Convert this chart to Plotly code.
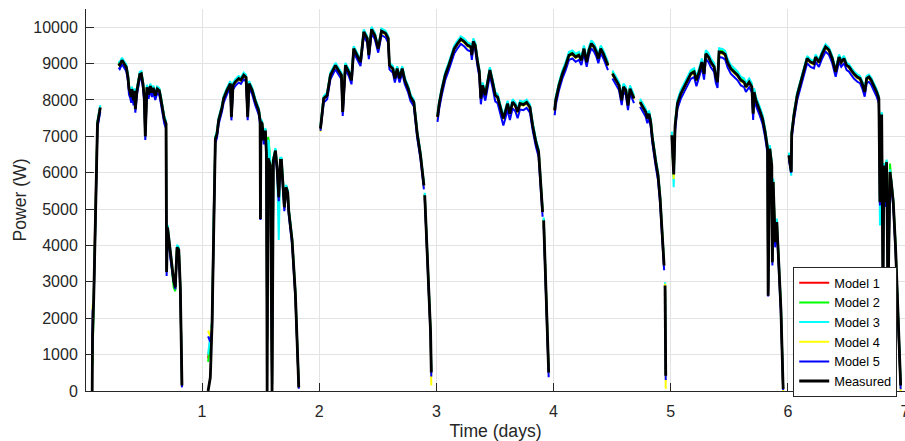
import plotly.graph_objects as go

# ---------------- data ----------------
# time axis in days; None entries mark night gaps
time_days = [
    0.063, 0.066, 0.076, 0.089, 0.108, 0.119, 0.132, 0.200, 0.288, 0.298, 0.317, 0.331, 0.354, 0.368, 0.377, 0.388, 0.396, 0.402, 0.416, 0.426, 0.431, 0.445, 0.459, 0.469, 0.482, 0.496, 0.507, 0.516, 0.530, 0.544, 0.559, 0.573, 0.584, 0.601, 0.618, 0.636, 0.648, 0.661, 0.678, 0.693, 0.698, 0.706, 0.730, 0.758, 0.772, 0.787, 0.802, 0.815, 0.829, 0.950,
    1.052, 1.071, 1.086, 1.099, 1.114, 1.128, 1.142, 1.171, 1.185, 1.214, 1.242, 1.251, 1.265, 1.285, 1.313, 1.332, 1.356, 1.376, 1.390, 1.402, 1.428, 1.456, 1.484, 1.496, 1.499, 1.503, 1.513, 1.527, 1.541, 1.550, 1.556, 1.564, 1.569, 1.584, 1.598, 1.609, 1.627, 1.641, 1.655, 1.669, 1.678, 1.692, 1.703, 1.718, 1.732, 1.740, 1.769, 1.797, 1.826, 1.950,
    2.011, 2.039, 2.068, 2.096, 2.139, 2.167, 2.190, 2.201, 2.224, 2.253, 2.276, 2.295, 2.324, 2.353, 2.381, 2.410, 2.424, 2.447, 2.475, 2.504, 2.532, 2.566, 2.589, 2.600, 2.629, 2.646, 2.666, 2.686, 2.709, 2.731, 2.760, 2.780, 2.808, 2.837, 2.865, 2.894, 2.897, 2.901, 2.916, 2.936, 2.951, 2.957, 2.990,
    3.010, 3.025, 3.047, 3.076, 3.102, 3.124, 3.153, 3.181, 3.209, 3.239, 3.267, 3.295, 3.303, 3.315, 3.332, 3.352, 3.367, 3.380, 3.395, 3.418, 3.437, 3.457, 3.480, 3.503, 3.523, 3.551, 3.572, 3.589, 3.608, 3.628, 3.651, 3.674, 3.694, 3.714, 3.743, 3.771, 3.799, 3.822, 3.850, 3.873, 3.893, 3.907, 3.912, 3.916, 3.930, 3.944, 3.959, 3.990,
    4.010, 4.019, 4.047, 4.076, 4.104, 4.132, 4.161, 4.189, 4.217, 4.238, 4.260, 4.283, 4.303, 4.323, 4.346, 4.366, 4.383, 4.403, 4.426, 4.446, 4.465, 4.485, 4.503, 4.531, 4.559, 4.582, 4.597, 4.617, 4.636, 4.653, 4.674, 4.687, 4.715, 4.739, 4.759, 4.787, 4.801, 4.815, 4.830, 4.844, 4.873, 4.892, 4.910, 4.924, 4.944, 4.948, 4.952, 4.958, 4.990,
    5.010, 5.026, 5.038, 5.058, 5.086, 5.114, 5.143, 5.172, 5.200, 5.220, 5.243, 5.266, 5.285, 5.300, 5.323, 5.343, 5.371, 5.385, 5.400, 5.413, 5.442, 5.465, 5.485, 5.513, 5.542, 5.571, 5.599, 5.627, 5.642, 5.670, 5.693, 5.704, 5.712, 5.727, 5.755, 5.784, 5.806, 5.827, 5.832, 5.846, 5.863, 5.868, 5.875, 5.892, 5.906, 5.926, 5.941, 5.960, 5.990,
    6.009, 6.029, 6.033, 6.052, 6.080, 6.109, 6.137, 6.165, 6.194, 6.223, 6.237, 6.265, 6.293, 6.322, 6.351, 6.379, 6.408, 6.437, 6.456, 6.479, 6.502, 6.522, 6.541, 6.564, 6.593, 6.616, 6.635, 6.656, 6.673, 6.692, 6.712, 6.735, 6.758, 6.777, 6.786, 6.792, 6.801, 6.812, 6.820, 6.829, 6.843, 6.855, 6.872, 6.883, 6.900, 6.920, 6.934, 6.949, 6.963,
]

measured = [
    0, 1500, 2550, 4780, 7350, 7550, 7790, None, 9000, 8960, 9090, 9010, 8900, 8630, 8310, 8200, 8080, 8300, 7990, 8250, 7750, 8260, 8540, 8700, 8720, 8450, 8080, 7000, 8350, 8150, 8380, 8200, 8330, 8120, 8300, 8250, 8050, 7750, 7480, 7350, 3270, 4500, 3780, 3040, 2850, 3950, 3880, 2850, 150, None,
    0, 370, 1850, 4700, 6930, 7070, 7440, 7800, 8040, 8270, 8450, 7530, 8400, 8500, 8590, 8550, 8680, 8620, 7530, 8450, 8270, 7950, 7710, 7440, 4730, 7400, 7350, 6890, 7160, 6520, 0, 6400, 6340, 6200, 0, 6340, 6610, 6130, 5330, 6340, 6340, 5700, 5050, 5600, 5450, 4960, 4140, 2670, 100, None,
    7210, 8040, 8130, 8680, 8950, 8820, 8680, 7670, 8950, 8770, 8540, 9410, 9230, 9040, 9870, 9690, 9230, 9940, 9780, 9410, 9890, 9830, 9690, 8950, 8860, 8590, 8860, 8590, 8860, 8540, 8310, 8080, 7940, 7070, 6480, 5650, None, 5380, 4370, 2990, 1610, 510, None,
    7530, 7900, 8270, 8680, 8910, 9140, 9410, 9550, 9670, 9600, 9500, 9460, 9230, 9610, 9500, 9040, 8770, 8040, 8400, 8130, 8490, 8820, 8490, 8130, 8080, 7760, 7490, 7670, 7900, 7620, 7940, 7850, 7670, 7900, 7870, 7930, 7800, 7300, 6840, 6570, 5740, 4920, None, 4690, 3450, 2070, 510, None,
    7710, 7990, 8400, 8720, 8950, 9230, 9270, 9180, 9230, 9090, 9410, 9040, 9370, 9550, 9460, 9320, 9140, 9410, 9270, 9090, 8950, None, 8720, 8540, 8400, 7990, 8360, 8270, 7850, 8310, 8170, 8040, None, 7940, 7810, 7670, 7490, 7620, 7390, 6940, 6290, 5930, 5280, 4370, 3450, None, 2900, 420, None,
    7030, 5950, 7300, 7900, 8170, 8360, 8540, 8720, 8770, 8540, 8770, 9040, 8720, 9270, 9180, 9040, 8910, 8630, 8490, 9320, 9300, 9250, 9040, 8860, 8770, 8680, 8540, 8490, 8360, 8490, 8360, 7620, 8220, 7990, 7760, 7490, 7120, 6660, 2620, 6660, 6200, 3540, 5740, 4090, 4640, 3450, 2260, 55, None,
    6480, 6020, 7070, 7580, 8130, 8490, 8770, 9140, 9040, 9000, 9180, 9040, 9270, 9460, 9370, 9140, 8770, 9180, 9040, 9140, 8950, 8910, 8820, 8720, 8630, 8590, 8450, 8220, 8590, 8630, 8540, 8400, 8220, 8040, 5190, 7390, 7600, 2800, 6200, 5190, 6290, 2500, 6020, 5740, 5190, 3910, 2530, 1160, 150,
]

model1 = [
    1000, 1600, 2570, 4800, 7370, 7570, 7810, None, 9020, 8980, 9110, 9030, 8920, 8650, 8330, 8220, 8100, 8320, 8010, 8270, 7770, 8280, 8560, 8720, 8740, 8470, 8100, 7020, 8370, 8170, 8400, 8220, 8350, 8140, 8320, 8270, 8070, 7770, 7500, 7370, 3290, 4520, 3800, 3000, 2800, 3970, 3900, 2870, 170, None,
    900, 1400, 1870, 4720, 6950, 7090, 7460, 7820, 8060, 8290, 8470, 7550, 8420, 8520, 8610, 8570, 8700, 8640, 7550, 8470, 8290, 7970, 7730, 7460, 4900, 7420, 7370, 6910, 7180, 6540, 1500, 6600, 6500, 6220, 200, 6360, 6630, 6150, 5350, 6360, 6360, 5720, 5070, 5620, 5470, 4980, 4160, 2690, 120, None,
    7230, 8060, 8150, 8700, 8970, 8840, 8700, 7690, 8970, 8790, 8560, 9430, 9250, 9060, 9890, 9710, 9250, 9960, 9800, 9430, 9910, 9850, 9710, 8970, 8880, 8610, 8880, 8610, 8880, 8560, 8330, 8100, 7960, 7090, 6500, 5670, None, 5400, 4390, 3010, 1630, 530, None,
    7550, 7920, 8290, 8700, 8930, 9160, 9430, 9570, 9690, 9620, 9520, 9480, 9250, 9630, 9520, 9060, 8790, 8060, 8420, 8150, 8510, 8840, 8510, 8150, 8100, 7780, 7510, 7690, 7920, 7640, 7960, 7870, 7690, 7920, 7890, 7950, 7820, 7320, 6860, 6590, 5760, 4940, None, 4710, 3470, 2090, 530, None,
    7730, 8010, 8420, 8740, 8970, 9250, 9290, 9200, 9250, 9110, 9430, 9060, 9390, 9570, 9480, 9340, 9160, 9430, 9290, 9110, 8970, None, 8740, 8560, 8420, 8010, 8380, 8290, 7870, 8330, 8190, 8060, None, 7960, 7830, 7690, 7510, 7640, 7410, 6960, 6310, 5950, 5300, 4390, 3470, None, 2920, 440, None,
    7050, 5900, 7320, 7920, 8190, 8380, 8560, 8740, 8790, 8560, 8790, 9060, 8740, 9290, 9200, 9060, 8930, 8650, 8510, 9340, 9320, 9270, 9060, 8880, 8790, 8700, 8560, 8510, 8380, 8510, 8380, 7640, 8240, 8010, 7780, 7510, 7140, 6680, 2800, 6680, 6220, 3600, 5760, 4110, 4660, 3470, 2280, 75, None,
    6500, 6040, 7090, 7600, 8150, 8510, 8790, 9160, 9060, 9020, 9200, 9060, 9290, 9480, 9390, 9160, 8790, 9200, 9060, 9160, 8970, 8930, 8840, 8740, 8650, 8610, 8470, 8240, 8610, 8650, 8560, 8420, 8240, 8060, 5300, 7410, 7620, 3000, 6220, 5210, 6310, 2600, 6040, 5760, 5210, 3930, 2550, 1180, 170,
]

model2 = [
    700, 750, 2590, 4820, 7390, 7590, 7830, None, 9040, 9000, 9130, 9050, 8940, 8670, 8350, 8240, 8120, 8340, 8030, 8290, 7790, 8300, 8580, 8740, 8760, 8490, 8120, 7040, 8390, 8190, 8420, 8240, 8370, 8160, 8340, 8290, 8090, 7790, 7520, 7390, 3310, 4540, 3760, 2850, 2740, 3990, 3920, 2890, 120, None,
    800, 1300, 1890, 4740, 6970, 7110, 7480, 7840, 8080, 8310, 8490, 7570, 8440, 8540, 8630, 8590, 8720, 8660, 7570, 8490, 8310, 7990, 7750, 7480, 5000, 7440, 7390, 6930, 7200, 6560, 1450, 6980, 6900, 6240, 200, 6380, 6650, 6170, 5370, 6380, 6380, 5740, 5090, 5640, 5490, 5000, 4180, 2710, 140, None,
    7250, 8080, 8170, 8720, 8990, 8860, 8720, 7710, 8990, 8810, 8580, 9450, 9270, 8990, 9910, 9730, 9270, 9980, 9820, 9360, 9930, 9870, 9730, 8990, 8900, 8630, 8900, 8630, 8900, 8580, 8350, 8120, 7980, 7110, 6520, 5690, None, 5420, 4410, 3030, 1650, 550, None,
    7570, 7940, 8310, 8720, 8950, 9180, 9450, 9590, 9710, 9640, 9540, 9500, 9270, 9650, 9540, 9080, 8810, 8080, 8440, 8170, 8530, 8860, 8530, 8170, 8120, 7800, 7530, 7710, 7940, 7660, 7980, 7890, 7710, 7940, 7910, 7970, 7840, 7340, 6880, 6610, 5780, 4960, None, 4730, 3490, 2110, 550, None,
    7760, 8040, 8450, 8770, 9000, 9280, 9320, 9230, 9280, 9140, 9460, 9090, 9420, 9600, 9510, 9370, 9190, 9460, 9320, 9140, 9000, None, 8770, 8590, 8450, 8040, 8410, 8320, 7900, 8360, 8220, 8090, None, 7990, 7860, 7720, 7540, 7670, 7440, 6990, 6340, 5980, 5330, 4420, 3500, None, 2950, 470, None,
    7080, 5900, 7350, 7950, 8220, 8410, 8590, 8770, 8820, 8590, 8820, 9090, 8770, 9320, 9230, 9090, 8960, 8680, 8540, 9370, 9350, 9300, 9090, 8910, 8820, 8730, 8590, 8540, 8410, 8540, 8410, 7670, 8270, 8040, 7810, 7540, 7170, 6710, 2900, 6710, 6250, 3650, 5790, 4140, 4690, 3500, 2310, 100, None,
    6520, 6060, 7110, 7620, 8170, 8530, 8810, 9180, 9080, 9040, 9220, 9080, 9310, 9500, 9410, 9180, 8810, 9220, 9080, 9180, 8990, 8950, 8860, 8760, 8670, 8630, 8490, 8260, 8630, 8670, 8580, 8440, 8260, 8080, 5400, 7430, 7640, 3100, 6240, 5230, 6330, 2700, 6250, 5780, 5230, 3950, 2570, 1200, 190,
]

model3 = [
    1000, 1100, 2620, 4850, 7420, 7620, 7860, None, 9070, 9030, 9160, 9080, 8970, 8700, 8380, 8270, 8150, 8370, 8060, 8320, 7820, 8330, 8610, 8770, 8790, 8520, 8150, 7070, 8420, 8220, 8450, 8270, 8400, 8190, 8370, 8320, 8120, 7820, 7550, 7420, 3340, 4570, 3850, 3100, 2900, 4020, 3950, 2920, 200, None,
    1000, 1450, 1920, 4770, 7000, 7140, 7510, 7870, 8110, 8340, 8520, 7600, 8470, 8570, 8660, 8620, 8750, 8690, 7600, 8520, 8340, 8020, 7780, 7510, 4900, 7470, 7420, 6960, 7230, 6590, 1400, 6900, 6850, 6270, 200, 6410, 6680, 6200, 4150, 6410, 6410, 5770, 5120, 5670, 5520, 5030, 4210, 2740, 170, None,
    7280, 8110, 8200, 8750, 9020, 8890, 8750, 7740, 9020, 8840, 8610, 9480, 9300, 9110, 9940, 9760, 9300, 10010, 9850, 9480, 9960, 9900, 9760, 9020, 8930, 8660, 8930, 8660, 8930, 8610, 8380, 8150, 8010, 7140, 6550, 5720, None, 5450, 4440, 3060, 1680, 580, None,
    7610, 7980, 8350, 8760, 8990, 9220, 9490, 9630, 9750, 9680, 9580, 9540, 9310, 9690, 9580, 9120, 8850, 8120, 8480, 8210, 8570, 8900, 8570, 8210, 8160, 7840, 7570, 7750, 7980, 7700, 8020, 7930, 7750, 7980, 7950, 8010, 7880, 7380, 6920, 6650, 5820, 5000, None, 4770, 3530, 2150, 590, None,
    7800, 8080, 8490, 8810, 9040, 9320, 9360, 9270, 9320, 9180, 9500, 9130, 9460, 9640, 9550, 9410, 9230, 9500, 9360, 9180, 9040, None, 8810, 8630, 8490, 8080, 8450, 8360, 7940, 8400, 8260, 8130, None, 8030, 7900, 7760, 7580, 7710, 7480, 7030, 6380, 6020, 5370, 4460, 3540, None, 2990, 510, None,
    7130, 5600, 7400, 8000, 8270, 8460, 8640, 8820, 8870, 8640, 8870, 9140, 8820, 9370, 9280, 9140, 9010, 8730, 8590, 9420, 9400, 9350, 9140, 8960, 8870, 8780, 8640, 8590, 8460, 8590, 8460, 7720, 8320, 8090, 7860, 7590, 7220, 6760, 2900, 6760, 6300, 3700, 5840, 4190, 4740, 3550, 2360, 150, None,
    6550, 5920, 7140, 7650, 8200, 8560, 8840, 9210, 9110, 9070, 9250, 9110, 9340, 9530, 9440, 9210, 8840, 9250, 9110, 9210, 9020, 8980, 8890, 8790, 8700, 8660, 8520, 8290, 8660, 8700, 8610, 8470, 8290, 8110, 4550, 7460, 7670, 3000, 6270, 5260, 6360, 2800, 6090, 5810, 5260, 3980, 2600, 1230, 220,
]

model4 = [
    1100, 2330, 2520, 4750, 7320, 7520, 7760, None, 8970, 8930, 9060, 8980, 8870, 8600, 8280, 8170, 8050, 8270, 7960, 8220, 7720, 8230, 8510, 8670, 8690, 8420, 8050, 6970, 8320, 8120, 8350, 8170, 8300, 8090, 8270, 8220, 8020, 7720, 7450, 7320, 3240, 4470, 3750, 3050, 2950, 3920, 3850, 2820, 120, None,
    1660, 1500, 1820, 4670, 6900, 7040, 7410, 7770, 8010, 8240, 8420, 7500, 8370, 8470, 8560, 8520, 8650, 8590, 7500, 8420, 8240, 7920, 7680, 7410, 4800, 7370, 7320, 6860, 7130, 6490, 1300, 6370, 6310, 6170, 150, 6310, 6580, 6100, 5250, 6310, 6310, 5670, 4980, 5570, 5420, 4930, 4110, 2640, 80, None,
    7120, 8010, 8100, 8650, 8920, 8790, 8650, 7640, 8920, 8740, 8510, 9380, 9200, 9010, 9840, 9660, 9200, 9910, 9750, 9380, 9860, 9800, 9660, 8920, 8830, 8560, 8830, 8560, 8830, 8510, 8280, 8050, 7910, 7040, 6450, 5600, None, 5350, 4340, 2960, 1580, 150, None,
    7450, 7870, 8240, 8650, 8880, 9110, 9380, 9520, 9640, 9570, 9470, 9430, 9200, 9580, 9470, 9010, 8740, 8010, 8370, 8100, 8460, 8790, 8460, 8100, 8050, 7730, 7460, 7640, 7870, 7590, 7910, 7820, 7640, 7870, 7840, 7900, 7770, 7270, 6810, 6540, 5710, 4890, None, 4660, 3420, 2040, 480, None,
    7630, 7960, 8370, 8690, 8920, 9200, 9240, 9150, 9200, 9060, 9380, 9010, 9340, 9520, 9430, 9290, 9110, 9380, 9240, 9060, 8920, None, 8690, 8510, 8370, 7960, 8330, 8240, 7820, 8280, 8140, 8010, None, 7910, 7780, 7640, 7460, 7590, 7360, 6910, 6260, 5900, 5250, 4340, 3420, None, 2950, 60, None,
    6900, 5830, 7270, 7870, 8140, 8330, 8510, 8690, 8740, 8510, 8740, 9010, 8690, 9240, 9150, 9010, 8880, 8600, 8460, 9290, 9270, 9220, 9010, 8830, 8740, 8650, 8510, 8460, 8330, 8460, 8330, 7590, 8190, 7960, 7730, 7460, 7090, 6630, 2700, 6630, 6170, 3500, 5710, 4060, 4610, 3420, 2230, 0, None,
    6450, 6100, 7040, 7550, 8100, 8460, 8740, 9110, 9010, 8970, 9150, 9010, 9240, 9430, 9340, 9110, 8740, 9150, 9010, 9110, 8920, 8880, 8790, 8690, 8600, 8560, 8420, 8190, 8560, 8600, 8510, 8370, 8190, 8010, 5200, 7360, 7570, 2900, 6170, 5160, 6260, 2400, 5990, 5710, 5160, 3880, 2500, 1130, 0,
]

model5 = [
    1000, 2200, 2440, 4670, 7240, 7440, 7680, None, 8890, 8850, 8980, 8900, 8790, 8520, 8150, 8050, 7920, 8190, 7850, 8120, 7650, 8150, 8430, 8590, 8610, 8340, 7950, 6900, 8240, 8030, 8270, 8080, 8210, 8000, 8190, 8130, 7920, 7620, 7350, 7220, 3160, 4390, 3650, 3000, 2800, 3840, 3770, 2740, 100, None,
    1500, 1350, 1740, 4590, 6820, 6960, 7330, 7690, 7930, 8160, 8340, 7440, 8290, 8390, 8480, 8440, 8570, 8510, 7440, 8340, 8160, 7840, 7600, 7330, 4700, 7290, 7240, 6780, 7050, 6410, 1400, 6290, 6230, 6090, 150, 6230, 6500, 6020, 5220, 6230, 6230, 5590, 4940, 5490, 5340, 4850, 4030, 2560, 60, None,
    7150, 7930, 8020, 8570, 8840, 8710, 8570, 7560, 8840, 8660, 8430, 9300, 9120, 8930, 9760, 9580, 9120, 9830, 9670, 9300, 9780, 9720, 9580, 8840, 8750, 8480, 8750, 8480, 8750, 8430, 8200, 7970, 7830, 6960, 6370, 5540, None, 5300, 4260, 2880, 1500, 400, None,
    7400, 7770, 8140, 8550, 8780, 9010, 9280, 9420, 9540, 9470, 9370, 9330, 9100, 9480, 9370, 8910, 8640, 7880, 8250, 7980, 8340, 8670, 8340, 7960, 7910, 7590, 7300, 7490, 7730, 7450, 7770, 7690, 7500, 7740, 7720, 7780, 7650, 7170, 6710, 6440, 5610, 4790, None, 4560, 3320, 1940, 380, None,
    7580, 7860, 8270, 8590, 8820, 9100, 9140, 9050, 9100, 8960, 9280, 8910, 9240, 9420, 9330, 9190, 9010, 9280, 9140, 8960, 8820, None, 8590, 8410, 8270, 7860, 8230, 8140, 7720, 8180, 8040, 7910, None, 7810, 7680, 7540, 7360, 7490, 7260, 6810, 6160, 5800, 5150, 4240, 3320, None, 2800, 300, None,
    6950, 6000, 7160, 7760, 8030, 8220, 8400, 8580, 8630, 8380, 8630, 8900, 8560, 9130, 9040, 8900, 8770, 8470, 8330, 9180, 9160, 9110, 8900, 8720, 8630, 8540, 8400, 8350, 8220, 8350, 8220, 7450, 8080, 7850, 7620, 7350, 6980, 6520, 2600, 6520, 6060, 3450, 5600, 3950, 4500, 3310, 2120, 30, None,
    6350, 6000, 6940, 7450, 8000, 8360, 8640, 9010, 8910, 8870, 9050, 8910, 9140, 9330, 9240, 9010, 8640, 9050, 8910, 9010, 8820, 8780, 8690, 8590, 8500, 8460, 8320, 8090, 8460, 8500, 8410, 8270, 8090, 7910, 5100, 7260, 7470, 2700, 6070, 5060, 6160, 2300, 5890, 5610, 5060, 3780, 2400, 1030, 50,
]

series_names = ["Model 1", "Model 2", "Model 3", "Model 4", "Model 5", "Measured"]
x_tick_values = [1, 2, 3, 4, 5, 6, 7]
y_tick_values = [0, 1000, 2000, 3000, 4000, 5000, 6000, 7000, 8000, 9000, 10000]

# ---------------- figure ----------------
all_series = [model1, model2, model3, model4, model5, measured]
for s in all_series:
    if len(s) != len(time_days):
        raise ValueError("length mismatch %d vs %d" % (len(s), len(time_days)))

colors = ["#ff0000", "#00ff00", "#00ffff", "#ffff00", "#0000ff", "#000000"]
widths = [2, 2, 2, 2, 2, 2.8]

fig = go.Figure()
for name, vals, col, w in zip(series_names, all_series, colors, widths):
    fig.add_trace(go.Scatter(
        x=time_days, y=vals, name=name, mode="lines",
        line=dict(color=col, width=w), connectgaps=False,
    ))

axis_col = "#262626"
grid_col = "#e3e3e3"
font_family = "Liberation Sans, Arial, Helvetica, sans-serif"

fig.update_layout(
    width=905, height=441,
    margin=dict(l=86, r=0, t=9, b=50, autoexpand=False),
    paper_bgcolor="white", plot_bgcolor="white",
    font=dict(family=font_family, size=16, color=axis_col),
    showlegend=True,
    legend=dict(
        x=0.9905, xanchor="right", y=0.3246, yanchor="top",
        bgcolor="white", bordercolor=axis_col, borderwidth=1,
        font=dict(family=font_family, size=12.8, color="#000000"),
        tracegroupgap=0, itemwidth=30,
    ),
)

fig.update_xaxes(
    range=[0.01, 7], tickmode="array", tickvals=x_tick_values,
    ticktext=[str(v) for v in x_tick_values],
    ticks="inside", ticklen=8, tickwidth=1, tickcolor=axis_col,
    showgrid=True, gridcolor=grid_col, gridwidth=1,
    showline=True, linecolor=axis_col, linewidth=1, mirror=False,
    zeroline=False, ticklabelstandoff=6, ticklabeloverflow="allow",
    tickfont=dict(size=16, color=axis_col),
    title=dict(text="Time (days)", font=dict(size=17.6, color=axis_col), standoff=5),
    automargin=False,
)
fig.update_yaxes(
    range=[0, 10500], tickmode="array", tickvals=y_tick_values,
    ticktext=[str(v) for v in y_tick_values],
    ticks="inside", ticklen=8, tickwidth=1, tickcolor=axis_col,
    showgrid=True, gridcolor=grid_col, gridwidth=1,
    showline=True, linecolor=axis_col, linewidth=1, mirror=False,
    zeroline=False, ticklabelstandoff=4,
    tickfont=dict(size=16, color=axis_col),
    title=dict(text="Power (W)", font=dict(size=17.6, color=axis_col), standoff=2),
    automargin=False,
)

fig.write_html(
    "out.html",
    config={"displayModeBar": False},
    post_script="document.body.style.margin='0';document.body.style.overflow='hidden';",
)
